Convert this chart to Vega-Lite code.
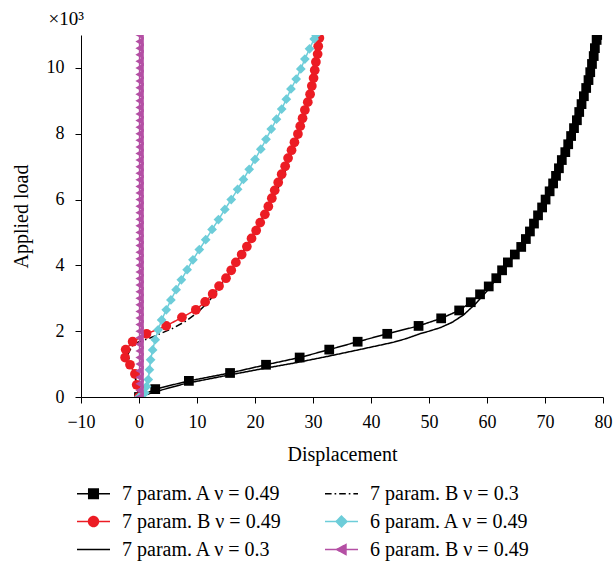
{
  "$schema": "https://vega.github.io/schema/vega-lite/v6.json",
  "width": 522,
  "height": 362,
  "autosize": {"type": "none"},
  "padding": {"left": 81, "top": 35, "right": 10, "bottom": 164},
  "background": "white",
  "config": {
    "view": {"stroke": null},
    "font": "Liberation Serif",
    "axis": {
      "grid": false,
      "domainColor": "#000000",
      "domainWidth": 1,
      "tickColor": "#000000",
      "tickWidth": 1,
      "labelColor": "#000000",
      "titleColor": "#000000",
      "labelFont": "Liberation Serif",
      "titleFont": "Liberation Serif",
      "labelFontSize": 18,
      "titleFontSize": 20,
      "titleFontWeight": "normal",
      "labelOverlap": false,
      "labelFlush": false
    }
  },
  "data": {
    "values": [
      {"s": "A49", "x": 0, "y": 0}, {"s": "A49", "x": 2.8, "y": 0.24}, {"s": "A49", "x": 8.6, "y": 0.49}, {"s": "A49", "x": 15.7, "y": 0.73}, {"s": "A49", "x": 21.9, "y": 0.98}, {"s": "A49", "x": 27.7, "y": 1.2}, {"s": "A49", "x": 32.8, "y": 1.44}, {"s": "A49", "x": 37.7, "y": 1.68}, {"s": "A49", "x": 42.8, "y": 1.92}, {"s": "A49", "x": 48.2, "y": 2.16}, {"s": "A49", "x": 52.1, "y": 2.39}, {"s": "A49", "x": 55.2, "y": 2.63}, {"s": "A49", "x": 57.2, "y": 2.88}, {"s": "A49", "x": 58.8, "y": 3.12}, {"s": "A49", "x": 60.3, "y": 3.36}, {"s": "A49", "x": 61.6, "y": 3.61}, {"s": "A49", "x": 62.6, "y": 3.85}, {"s": "A49", "x": 63.6, "y": 4.09}, {"s": "A49", "x": 64.8, "y": 4.33}, {"s": "A49", "x": 65.9, "y": 4.56}, {"s": "A49", "x": 66.7, "y": 4.8}, {"s": "A49", "x": 67.4, "y": 5.03}, {"s": "A49", "x": 68.1, "y": 5.27}, {"s": "A49", "x": 68.8, "y": 5.52}, {"s": "A49", "x": 69.5, "y": 5.76}, {"s": "A49", "x": 70.1, "y": 6.0}, {"s": "A49", "x": 70.8, "y": 6.25}, {"s": "A49", "x": 71.4, "y": 6.49}, {"s": "A49", "x": 71.9, "y": 6.72}, {"s": "A49", "x": 72.4, "y": 6.95}, {"s": "A49", "x": 72.9, "y": 7.2}, {"s": "A49", "x": 73.5, "y": 7.44}, {"s": "A49", "x": 74.0, "y": 7.68}, {"s": "A49", "x": 74.5, "y": 7.93}, {"s": "A49", "x": 75.0, "y": 8.17}, {"s": "A49", "x": 75.5, "y": 8.41}, {"s": "A49", "x": 75.9, "y": 8.66}, {"s": "A49", "x": 76.3, "y": 8.9}, {"s": "A49", "x": 76.7, "y": 9.14}, {"s": "A49", "x": 77.1, "y": 9.39}, {"s": "A49", "x": 77.5, "y": 9.63}, {"s": "A49", "x": 77.8, "y": 9.87}, {"s": "A49", "x": 78.1, "y": 10.12}, {"s": "A49", "x": 78.4, "y": 10.36}, {"s": "A49", "x": 78.6, "y": 10.6}, {"s": "A49", "x": 78.9, "y": 10.85}, {"s": "A49", "x": 79.0, "y": 11.0},
      {"s": "A3", "x": 0, "y": 0}, {"s": "A3", "x": 3, "y": 0.17}, {"s": "A3", "x": 8, "y": 0.41}, {"s": "A3", "x": 15, "y": 0.65}, {"s": "A3", "x": 21, "y": 0.85}, {"s": "A3", "x": 27, "y": 1.04}, {"s": "A3", "x": 32.4, "y": 1.23}, {"s": "A3", "x": 38, "y": 1.44}, {"s": "A3", "x": 43.8, "y": 1.66}, {"s": "A3", "x": 46, "y": 1.77}, {"s": "A3", "x": 48.4, "y": 1.92}, {"s": "A3", "x": 50, "y": 2.0}, {"s": "A3", "x": 52, "y": 2.11}, {"s": "A3", "x": 54, "y": 2.27}, {"s": "A3", "x": 56, "y": 2.5}, {"s": "A3", "x": 58, "y": 2.83}, {"s": "A3", "x": 60, "y": 3.22}, {"s": "A3", "x": 62, "y": 3.68}, {"s": "A3", "x": 64.5, "y": 4.25}, {"s": "A3", "x": 66.8, "y": 4.8}, {"s": "A3", "x": 68, "y": 5.25}, {"s": "A3", "x": 69.2, "y": 5.75}, {"s": "A3", "x": 70.4, "y": 6.25}, {"s": "A3", "x": 71.5, "y": 6.75}, {"s": "A3", "x": 72.6, "y": 7.25}, {"s": "A3", "x": 73.7, "y": 7.75}, {"s": "A3", "x": 74.7, "y": 8.25}, {"s": "A3", "x": 75.6, "y": 8.75}, {"s": "A3", "x": 76.5, "y": 9.25}, {"s": "A3", "x": 77.3, "y": 9.75}, {"s": "A3", "x": 78, "y": 10.25}, {"s": "A3", "x": 78.6, "y": 10.75}, {"s": "A3", "x": 79, "y": 11.0},
      {"s": "B49", "x": 0, "y": 0}, {"s": "B49", "x": -0.4, "y": 0.37}, {"s": "B49", "x": -0.7, "y": 0.7}, {"s": "B49", "x": -1.55, "y": 0.98}, {"s": "B49", "x": -2.4, "y": 1.2}, {"s": "B49", "x": -2.3, "y": 1.44}, {"s": "B49", "x": -1.1, "y": 1.68}, {"s": "B49", "x": 1.3, "y": 1.92}, {"s": "B49", "x": 4.7, "y": 2.16}, {"s": "B49", "x": 7.4, "y": 2.42}, {"s": "B49", "x": 9.8, "y": 2.65}, {"s": "B49", "x": 11.4, "y": 2.89}, {"s": "B49", "x": 12.7, "y": 3.13}, {"s": "B49", "x": 13.8, "y": 3.37}, {"s": "B49", "x": 15.0, "y": 3.61}, {"s": "B49", "x": 15.9, "y": 3.85}, {"s": "B49", "x": 16.7, "y": 4.09}, {"s": "B49", "x": 17.7, "y": 4.33}, {"s": "B49", "x": 18.6, "y": 4.57}, {"s": "B49", "x": 19.4, "y": 4.82}, {"s": "B49", "x": 20.2, "y": 5.06}, {"s": "B49", "x": 20.9, "y": 5.3}, {"s": "B49", "x": 21.7, "y": 5.55}, {"s": "B49", "x": 22.3, "y": 5.79}, {"s": "B49", "x": 22.9, "y": 6.04}, {"s": "B49", "x": 23.4, "y": 6.28}, {"s": "B49", "x": 24.0, "y": 6.52}, {"s": "B49", "x": 24.6, "y": 6.77}, {"s": "B49", "x": 25.2, "y": 7.01}, {"s": "B49", "x": 25.7, "y": 7.26}, {"s": "B49", "x": 26.3, "y": 7.5}, {"s": "B49", "x": 26.8, "y": 7.74}, {"s": "B49", "x": 27.4, "y": 7.99}, {"s": "B49", "x": 27.8, "y": 8.23}, {"s": "B49", "x": 28.2, "y": 8.47}, {"s": "B49", "x": 28.6, "y": 8.72}, {"s": "B49", "x": 29.1, "y": 8.96}, {"s": "B49", "x": 29.5, "y": 9.2}, {"s": "B49", "x": 29.8, "y": 9.45}, {"s": "B49", "x": 30.1, "y": 9.69}, {"s": "B49", "x": 30.3, "y": 9.93}, {"s": "B49", "x": 30.5, "y": 10.18}, {"s": "B49", "x": 30.8, "y": 10.42}, {"s": "B49", "x": 30.9, "y": 10.66}, {"s": "B49", "x": 31.1, "y": 10.91},
      {"s": "B3", "x": 0, "y": 0}, {"s": "B3", "x": -0.3, "y": 0.3}, {"s": "B3", "x": -0.8, "y": 0.7}, {"s": "B3", "x": -1.5, "y": 1.0}, {"s": "B3", "x": -1.9, "y": 1.3}, {"s": "B3", "x": -1.2, "y": 1.55}, {"s": "B3", "x": 0, "y": 1.68}, {"s": "B3", "x": 2, "y": 1.8}, {"s": "B3", "x": 4, "y": 1.95}, {"s": "B3", "x": 6, "y": 2.1}, {"s": "B3", "x": 8, "y": 2.3}, {"s": "B3", "x": 10, "y": 2.55}, {"s": "B3", "x": 12, "y": 2.9}, {"s": "B3", "x": 14, "y": 3.35}, {"s": "B3", "x": 16, "y": 3.88}, {"s": "B3", "x": 18, "y": 4.45}, {"s": "B3", "x": 20, "y": 5.05}, {"s": "B3", "x": 22, "y": 5.68}, {"s": "B3", "x": 24, "y": 6.35}, {"s": "B3", "x": 26, "y": 7.2}, {"s": "B3", "x": 28, "y": 8.25}, {"s": "B3", "x": 29, "y": 8.85}, {"s": "B3", "x": 30, "y": 9.55}, {"s": "B3", "x": 30.7, "y": 10.3}, {"s": "B3", "x": 31.3, "y": 11.0},
      {"s": "C49", "x": 0, "y": 0}, {"s": "C49", "x": 1.0, "y": 0.12}, {"s": "C49", "x": 1.3, "y": 0.32}, {"s": "C49", "x": 1.6, "y": 0.53}, {"s": "C49", "x": 1.8, "y": 0.83}, {"s": "C49", "x": 2.0, "y": 1.13}, {"s": "C49", "x": 2.35, "y": 1.43}, {"s": "C49", "x": 2.8, "y": 1.74}, {"s": "C49", "x": 3.3, "y": 2.04}, {"s": "C49", "x": 3.9, "y": 2.34}, {"s": "C49", "x": 4.7, "y": 2.65}, {"s": "C49", "x": 5.5, "y": 2.95}, {"s": "C49", "x": 6.4, "y": 3.26}, {"s": "C49", "x": 7.3, "y": 3.56}, {"s": "C49", "x": 8.3, "y": 3.87}, {"s": "C49", "x": 9.3, "y": 4.17}, {"s": "C49", "x": 10.4, "y": 4.48}, {"s": "C49", "x": 11.5, "y": 4.78}, {"s": "C49", "x": 12.6, "y": 5.09}, {"s": "C49", "x": 13.7, "y": 5.39}, {"s": "C49", "x": 14.8, "y": 5.7}, {"s": "C49", "x": 15.9, "y": 6.0}, {"s": "C49", "x": 17.0, "y": 6.31}, {"s": "C49", "x": 18.0, "y": 6.61}, {"s": "C49", "x": 19.0, "y": 6.92}, {"s": "C49", "x": 20.0, "y": 7.22}, {"s": "C49", "x": 21.0, "y": 7.53}, {"s": "C49", "x": 21.9, "y": 7.83}, {"s": "C49", "x": 22.8, "y": 8.14}, {"s": "C49", "x": 23.7, "y": 8.44}, {"s": "C49", "x": 24.6, "y": 8.75}, {"s": "C49", "x": 25.4, "y": 9.05}, {"s": "C49", "x": 26.2, "y": 9.36}, {"s": "C49", "x": 27.1, "y": 9.66}, {"s": "C49", "x": 27.9, "y": 9.97}, {"s": "C49", "x": 28.6, "y": 10.27}, {"s": "C49", "x": 29.4, "y": 10.58}, {"s": "C49", "x": 30.2, "y": 10.88}, {"s": "C49", "x": 30.5, "y": 11.0},
      {"s": "D49", "x": 0.1, "y": 0}, {"s": "D49", "x": 0.1, "y": 0.2}, {"s": "D49", "x": 0.1, "y": 0.4}, {"s": "D49", "x": 0.1, "y": 0.6}, {"s": "D49", "x": 0.1, "y": 0.8}, {"s": "D49", "x": 0.1, "y": 1.0}, {"s": "D49", "x": 0.1, "y": 1.2}, {"s": "D49", "x": 0.1, "y": 1.4}, {"s": "D49", "x": 0.1, "y": 1.6}, {"s": "D49", "x": 0.1, "y": 1.8}, {"s": "D49", "x": 0.1, "y": 2.0}, {"s": "D49", "x": 0.1, "y": 2.2}, {"s": "D49", "x": 0.1, "y": 2.4}, {"s": "D49", "x": 0.1, "y": 2.6}, {"s": "D49", "x": 0.1, "y": 2.8}, {"s": "D49", "x": 0.1, "y": 3.0}, {"s": "D49", "x": 0.1, "y": 3.2}, {"s": "D49", "x": 0.1, "y": 3.4}, {"s": "D49", "x": 0.1, "y": 3.6}, {"s": "D49", "x": 0.1, "y": 3.8}, {"s": "D49", "x": 0.1, "y": 4.0}, {"s": "D49", "x": 0.1, "y": 4.2}, {"s": "D49", "x": 0.1, "y": 4.4}, {"s": "D49", "x": 0.1, "y": 4.6}, {"s": "D49", "x": 0.1, "y": 4.8}, {"s": "D49", "x": 0.1, "y": 5.0}, {"s": "D49", "x": 0.1, "y": 5.2}, {"s": "D49", "x": 0.1, "y": 5.4}, {"s": "D49", "x": 0.1, "y": 5.6}, {"s": "D49", "x": 0.1, "y": 5.8}, {"s": "D49", "x": 0.1, "y": 6.0}, {"s": "D49", "x": 0.1, "y": 6.2}, {"s": "D49", "x": 0.1, "y": 6.4}, {"s": "D49", "x": 0.1, "y": 6.6}, {"s": "D49", "x": 0.1, "y": 6.8}, {"s": "D49", "x": 0.1, "y": 7.0}, {"s": "D49", "x": 0.1, "y": 7.2}, {"s": "D49", "x": 0.1, "y": 7.4}, {"s": "D49", "x": 0.1, "y": 7.6}, {"s": "D49", "x": 0.1, "y": 7.8}, {"s": "D49", "x": 0.1, "y": 8.0}, {"s": "D49", "x": 0.1, "y": 8.2}, {"s": "D49", "x": 0.1, "y": 8.4}, {"s": "D49", "x": 0.1, "y": 8.6}, {"s": "D49", "x": 0.1, "y": 8.8}, {"s": "D49", "x": 0.1, "y": 9.0}, {"s": "D49", "x": 0.1, "y": 9.2}, {"s": "D49", "x": 0.1, "y": 9.4}, {"s": "D49", "x": 0.1, "y": 9.6}, {"s": "D49", "x": 0.1, "y": 9.8}, {"s": "D49", "x": 0.1, "y": 10.0}, {"s": "D49", "x": 0.1, "y": 10.2}, {"s": "D49", "x": 0.1, "y": 10.4}, {"s": "D49", "x": 0.1, "y": 10.6}, {"s": "D49", "x": 0.1, "y": 10.8}, {"s": "D49", "x": 0.1, "y": 11.0}
    ]
  },
  "layer": [
    {
      "mark": {"type": "line", "strokeWidth": 1.5, "clip": true},
      "encoding": {
        "x": {
          "field": "x", "type": "quantitative", "title": "Displacement",
          "scale": {"domain": [-10, 80], "nice": false, "zero": false},
          "axis": {
            "values": [-10, -5, 0, 5, 10, 15, 20, 25, 30, 35, 40, 45, 50, 55, 60, 65, 70, 75, 80],
            "labelExpr": "datum.value % 10 === 0 ? datum.label : ''",
            "tickSize": {"condition": {"test": "datum.value % 10 === 0", "value": 6}, "value": 3},
            "labelPadding": 10,
            "titlePadding": 13
          }
        },
        "y": {
          "field": "y", "type": "quantitative", "title": "Applied load",
          "scale": {"domain": [0, 11], "nice": false},
          "axis": {
            "values": [0, 1, 2, 3, 4, 5, 6, 7, 8, 9, 10, 11],
            "labelExpr": "datum.value % 2 === 0 ? datum.label : ''",
            "tickSize": {"condition": {"test": "datum.value % 2 === 0", "value": 6}, "value": 3},
            "labelPadding": 11,
            "titlePadding": 15
          }
        },
        "color": {
          "field": "s", "type": "nominal",
          "scale": {"domain": ["A49", "B3", "B49", "C49", "A3", "D49"], "range": ["#000000", "#000000", "#ec1c24", "#6dcdd9", "#000000", "#b44fa4"]},
          "legend": {
            "orient": "none", "legendX": -5, "legendY": 441, "title": null, "columns": 2,
            "direction": "horizontal",
            "padding": 0, "columnPadding": 40, "rowPadding": -9,
            "symbolSize": 1089, "symbolStrokeWidth": 1.5,
            "labelFont": "Liberation Serif", "labelFontSize": 20, "labelColor": "#000000", "labelOffset": 11, "labelLimit": 400,
            "labelExpr": "datum.value === 'A49' ? '7 param. A ν = 0.49' : datum.value === 'B3' ? '7 param. B ν = 0.3' : datum.value === 'B49' ? '7 param. B ν = 0.49' : datum.value === 'C49' ? '6 param. A ν = 0.49' : datum.value === 'A3' ? '7 param. A ν = 0.3' : '6 param. B ν = 0.49'",
            "encode": {
              "symbols": {
                "update": {
                  "shape": {"signal": "datum.value === 'A49' ? 'M-1,0H1M-0.29,-0.29H0.29V0.29H-0.29Z' : datum.value === 'B49' ? 'M-1,0H1M0.3,0A0.3,0.3,0,1,1,-0.3,0A0.3,0.3,0,1,1,0.3,0Z' : datum.value === 'C49' ? 'M-1,0H1M0,-0.33L0.33,0L0,0.33L-0.33,0Z' : datum.value === 'D49' ? 'M-1,0H1M-0.3,0L0.27,-0.3L0.27,0.3Z' : datum.value === 'B3' ? 'M-1,0H-0.6M-0.42,0H-0.32M-0.14,0H0.26M0.44,0H0.54M0.72,0H1' : 'M-1,0H1'"},
                  "stroke": {"signal": "scale('color', datum.value)"},
                  "fill": {"signal": "scale('color', datum.value)"},
                  "strokeWidth": {"value": 1.5},
                  "strokeDash": {"value": []},
                  "opacity": {"value": 1},
                  "size": {"value": 1089}
                }
              }
            }
          }
        },
        "strokeDash": {
          "field": "s", "type": "nominal", "legend": null,
          "scale": {"domain": ["A49", "B3", "B49", "C49", "A3", "D49"], "range": [[1, 0], [7, 3, 1.5, 3], [1, 0], [1, 0], [1, 0], [1, 0]]}
        },
        "order": {"field": "y", "type": "quantitative"}
      }
    },
    {
      "transform": [{"filter": {"field": "s", "oneOf": ["A49", "B49", "C49", "D49"]}}],
      "mark": {"type": "point", "filled": true, "opacity": 1, "size": 95, "clip": true},
      "encoding": {
        "x": {"field": "x", "type": "quantitative"},
        "y": {"field": "y", "type": "quantitative"},
        "color": {"field": "s", "type": "nominal"},
        "shape": {
          "field": "s", "type": "nominal", "legend": null,
          "scale": {"domain": ["A49", "B49", "C49", "D49"], "range": ["square", "circle", "diamond", "triangle-left"]}
        },
        "size": {
          "field": "s", "type": "nominal", "legend": null,
          "scale": {"domain": ["A49", "B49", "C49", "D49"], "range": [95, 95, 90, 115]}
        }
      }
    },
    {
      "data": {"values": [{"label": "×10³"}]},
      "mark": {"type": "text", "align": "right", "baseline": "alphabetic", "dx": 3, "dy": -10, "font": "Liberation Serif", "fontSize": 19, "color": "#000000"},
      "encoding": {"x": {"datum": -10}, "y": {"datum": 11}, "text": {"field": "label"}}
    }
  ]
}
